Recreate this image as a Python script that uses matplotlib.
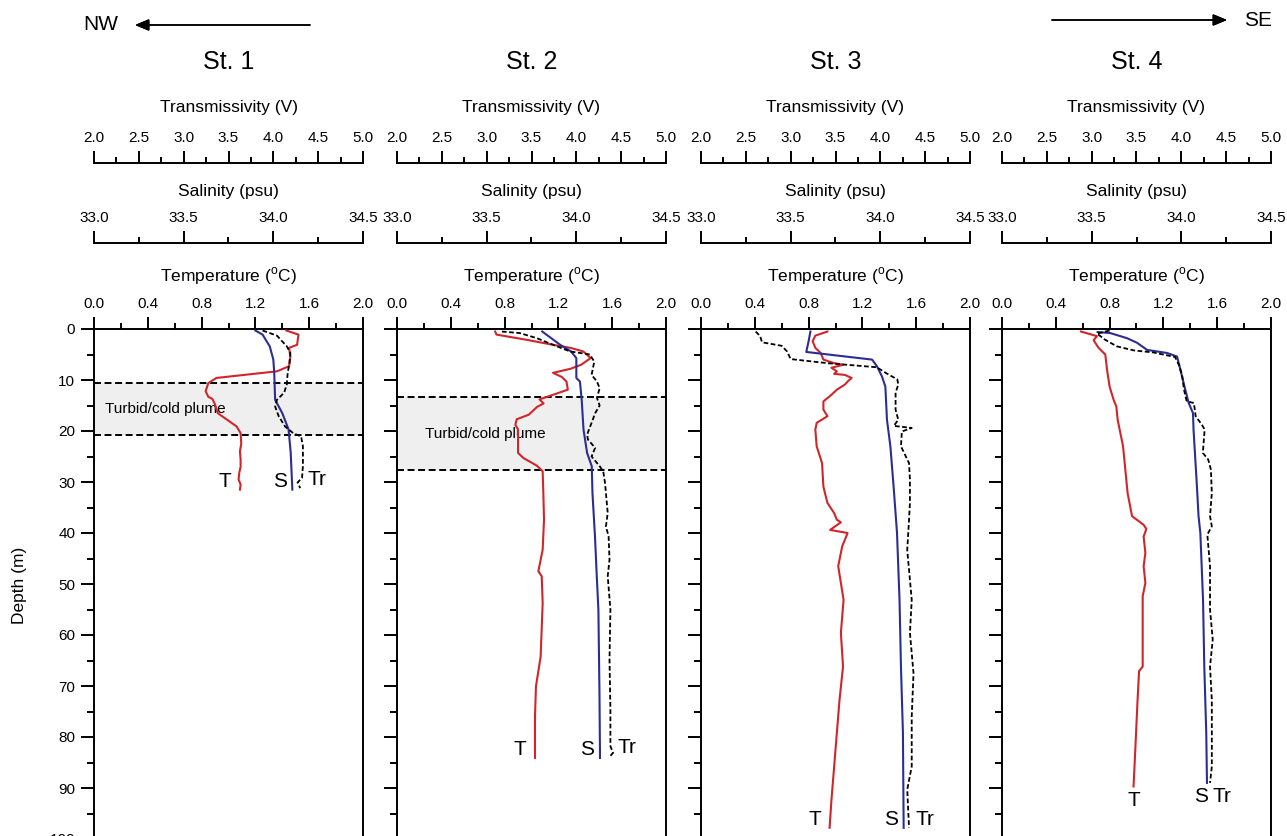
import matplotlib.pyplot as plt
from matplotlib.ticker import FixedLocator, AutoMinorLocator, FormatStrFormatter

plt.rcParams['font.family'] = ['Liberation Sans', 'DejaVu Sans']
plt.rcParams['mathtext.fontset'] = 'custom'
plt.rcParams['mathtext.rm'] = 'Liberation Sans'
plt.rcParams['lines.scale_dashes'] = False

# ---- data (depth in m) ----
stations = ['St. 1', 'St. 2', 'St. 3', 'St. 4']

st1_T_depth = [0.3, 1.1, 3.1, 3.7, 5.4, 7.3, 8.3, 9.6, 10.6, 12.2, 13.3, 13.7, 14.8, 16.5, 17.8, 19.1,
               20.4, 22.5, 24.0, 25.6, 27.0, 28.2, 29.5, 30.5, 31.5]
st1_T = [1.43, 1.52, 1.51, 1.45, 1.46, 1.45, 1.36, 0.91, 0.85, 0.83, 0.85, 0.88, 0.90, 0.92, 0.99, 1.06,
         1.09, 1.095, 1.085, 1.09, 1.09, 1.08, 1.075, 1.09, 1.085]
st1_S_depth = [0.3, 1.1, 3.4, 6.0, 8.6, 13.9, 16.5, 19.7, 24.3, 31.5]
st1_S = [33.90, 33.94, 33.98, 34.00, 34.005, 34.01, 34.05, 34.085, 34.097, 34.106]
st1_Tr_depth = [0.3, 1.3, 3.4, 4.7, 6.7, 8.6, 10.9, 12.5, 13.9, 15.2, 17.1, 19.1, 20.4, 21.1, 23.0, 26.9,
                29.2, 30.1, 31.2]
st1_Tr = [3.88, 4.04, 4.15, 4.19, 4.18, 4.16, 4.15, 4.12, 4.04, 4.02, 4.06, 4.13, 4.22, 4.31, 4.33, 4.33,
          4.32, 4.27, 4.30]

st2_T_depth = [0.5, 1.1, 2.1, 3.1, 3.7, 4.4, 5.7, 7.0, 7.8, 8.6, 9.4, 10.3, 11.9, 12.9, 13.8, 14.6, 15.3,
               16.8, 17.7, 18.8, 19.7, 24.3, 25.3, 26.8, 27.9, 32.2, 37.4, 43.3, 47.5, 48.5, 53.7, 64.2,
               70.1, 76.0, 84.1]
st2_T = [0.73, 0.74, 0.96, 1.16, 1.29, 1.385, 1.44, 1.37, 1.29, 1.16, 1.225, 1.26, 1.27, 1.16, 1.06, 1.09,
         1.04, 0.98, 0.89, 0.88, 0.90, 0.90, 0.94, 1.04, 1.083, 1.088, 1.093, 1.083, 1.051, 1.076, 1.083,
         1.068, 1.033, 1.026, 1.026]
st2_S_depth = [0.5, 1.8, 3.1, 4.4, 5.7, 9.6, 10.3, 13.9, 19.7, 24.3, 26.9, 32.2, 40.7, 48.5, 55.0, 71.4, 84.1]
st2_S = [33.81, 33.86, 33.91, 33.97, 34.0, 34.0, 34.02, 34.03, 34.04, 34.06, 34.086, 34.09, 34.104,
         34.114, 34.123, 34.129, 34.132]
st2_Tr_depth = [0.5, 0.8, 1.8, 3.1, 4.4, 5.0, 6.4, 9.0, 10.3, 11.6, 13.5, 15.0, 16.5, 18.4, 20.7, 21.7,
                23.3, 25.0, 26.9, 27.9, 30.2, 32.2, 36.1, 38.7, 40.7, 45.2, 48.5, 55.0, 64.8, 74.6, 81.8,
                83.1, 83.7]
st2_Tr = [3.17, 3.37, 3.56, 3.74, 3.93, 4.15, 4.20, 4.17, 4.23, 4.26, 4.23, 4.26, 4.21, 4.17, 4.12, 4.13,
          4.21, 4.17, 4.26, 4.30, 4.32, 4.33, 4.35, 4.33, 4.36, 4.37, 4.35, 4.38, 4.37, 4.38, 4.38,
          4.41, 4.38]

st3_T_depth = [0.5, 1.3, 2.4, 3.7, 4.7, 6.0, 6.7, 7.0, 7.6, 8.3, 8.8, 9.0, 9.6, 10.3, 10.9, 11.9, 12.9,
               14.2, 15.8, 17.1, 18.4, 19.7, 23.0, 26.3, 30.9, 34.1, 36.1, 37.4, 37.9, 39.4, 40.0, 42.6,
               46.5, 53.1, 59.6, 66.2, 72.7, 79.2, 85.8, 92.3, 97.8]
st3_T = [0.94, 0.85, 0.83, 0.85, 0.89, 0.91, 0.99, 1.06, 0.97, 1.01, 0.99, 1.07, 1.12, 1.09, 1.07, 1.01,
         0.97, 0.91, 0.91, 0.94, 0.86, 0.85, 0.86, 0.90, 0.91, 0.94, 0.99, 1.01, 1.04, 0.96, 1.09, 1.05,
         1.02, 1.06, 1.04, 1.056, 1.03, 1.01, 0.99, 0.97, 0.956]
st3_S_depth = [0.5, 2.4, 4.5, 6.0, 7.3, 9.3, 11.3, 17.8, 23.0, 30.9, 40.0, 53.1, 66.2, 79.2, 97.8]
st3_S = [33.61, 33.60, 33.587, 33.954, 33.981, 34.009, 34.028, 34.037, 34.056, 34.074, 34.093, 34.107,
         34.115, 34.126, 34.13]
st3_Tr_depth = [0.5, 1.4, 2.6, 3.3, 4.4, 5.9, 6.7, 7.5, 8.6, 9.9, 10.9, 12.5, 15.8, 17.8, 19.0, 19.4, 20.1,
                23.0, 26.3, 29.5, 34.1, 37.4, 43.3, 53.1, 59.6, 67.5, 76.0, 85.8, 90.3, 97.8]
st3_Tr = [2.61, 2.66, 2.68, 2.90, 2.96, 3.00, 3.41, 3.96, 4.06, 4.19, 4.20, 4.17, 4.17, 4.20, 4.15, 4.35,
          4.24, 4.23, 4.32, 4.33, 4.33, 4.32, 4.30, 4.35, 4.33, 4.37, 4.35, 4.35, 4.30, 4.32]

st4_T_depth = [0.5, 1.4, 2.2, 3.7, 5.0, 8.0, 11.3, 13.9, 15.2, 17.8, 20.4, 23.0, 27.6, 32.2, 36.7, 38.4,
               39.2, 40.7, 43.9, 46.5, 49.8, 52.4, 66.2, 67.1, 72.7, 82.5, 89.7]
st4_T = [0.587, 0.706, 0.681, 0.718, 0.768, 0.781, 0.80, 0.83, 0.85, 0.86, 0.88, 0.90, 0.917, 0.934,
         0.967, 1.053, 1.073, 1.053, 1.066, 1.053, 1.066, 1.046, 1.046, 1.019, 1.008, 0.991, 0.978]
st4_S_depth = [0.6, 0.8, 1.8, 2.7, 4.1, 4.7, 5.4, 7.3, 9.3, 11.9, 14.5, 16.5, 19.7, 25.6, 30.9, 36.7, 40.0,
               53.1, 66.2, 79.2, 89.0]
st4_S = [33.533, 33.604, 33.697, 33.753, 33.809, 33.92, 33.976, 33.99, 34.004, 34.022, 34.041, 34.065,
         34.068, 34.078, 34.087, 34.096, 34.106, 34.121, 34.128, 34.139, 34.143]
st4_Tr_depth = [0.3, 0.9, 2.1, 3.4, 4.2, 4.6, 5.5, 7.3, 9.3, 11.9, 14.2, 14.5, 17.1, 18.8, 19.7, 24.3, 25.6,
                27.6, 32.2, 36.7, 38.7, 40.3, 46.5, 55.0, 60.9, 66.2, 72.7, 85.8, 89.0]
st4_Tr = [3.20, 3.06, 3.15, 3.28, 3.47, 3.69, 3.93, 3.98, 4.01, 4.03, 4.06, 4.14, 4.16, 4.23, 4.26, 4.24,
          4.30, 4.33, 4.34, 4.32, 4.34, 4.29, 4.32, 4.32, 4.35, 4.32, 4.34, 4.34, 4.32]

# turbid/cold plume layer (top, bottom depth); None where absent
plumes = [(10.5, 20.7), (13.4, 27.6), None, None]

temp_ticks = [0.0, 0.4, 0.8, 1.2, 1.6, 2.0]
sal_ticks = [33.0, 33.5, 34.0, 34.5]
tr_ticks = [2.0, 2.5, 3.0, 3.5, 4.0, 4.5, 5.0]
depth_ticks = [0, 10, 20, 30, 40, 50, 60, 70, 80, 90, 100]

profiles = [
    (st1_T_depth, st1_T, st1_S_depth, st1_S, st1_Tr_depth, st1_Tr),
    (st2_T_depth, st2_T, st2_S_depth, st2_S, st2_Tr_depth, st2_Tr),
    (st3_T_depth, st3_T, st3_S_depth, st3_S, st3_Tr_depth, st3_Tr),
    (st4_T_depth, st4_T, st4_S_depth, st4_S, st4_Tr_depth, st4_Tr),
]

RED = '#d0262b'
BLUE = '#2c2d94'
LW = 1.4
W, H = 1287, 836

fig = plt.figure(figsize=(W / 100, H / 100), dpi=100)

lefts = [94, 397, 701, 1002]


def style_top(a, ticks, label, labelpad):
    a.xaxis.tick_top()
    a.xaxis.set_major_locator(FixedLocator(ticks))
    a.xaxis.set_minor_locator(AutoMinorLocator(2))
    a.xaxis.set_major_formatter(FormatStrFormatter('%.1f'))
    a.tick_params(axis='x', which='both', direction='out', width=LW, top=True, bottom=False,
                  labeltop=True, labelbottom=False)
    a.tick_params(axis='x', which='major', length=8.5, pad=4.5, labelsize=11)
    a.tick_params(axis='x', which='minor', length=4)
    a.xaxis.set_label_position('top')
    a.set_xlabel(label, fontsize=12.5, labelpad=labelpad)


def floating_axis(ax, lim, ticks, label, offset, labelpad):
    tw = ax.twiny()
    tw.set_xlim(*lim)
    for s in ['left', 'right', 'bottom']:
        tw.spines[s].set_visible(False)
    tw.spines['top'].set_position(('outward', offset))
    tw.spines['top'].set_linewidth(LW)
    style_top(tw, ticks, label, labelpad)
    return tw


for i, (name, prof) in enumerate(zip(stations, profiles)):
    tdep, t, sdep, s, trdep, tr = prof
    ax = fig.add_axes([lefts[i] / W, (H - 839) / H, 269 / W, 510 / H])
    ax.set_xlim(0, 2)
    ax.set_ylim(100, 0)
    for sp in ['left', 'right', 'top']:
        ax.spines[sp].set_linewidth(LW)
    ax.spines['bottom'].set_visible(False)

    sal = floating_axis(ax, (33.0, 34.5), sal_ticks, 'Salinity (psu)', 62, 10.5)
    trm = floating_axis(ax, (2.0, 5.0), tr_ticks, 'Transmissivity (V)', 119.5, 14)

    # twiny moves the host ticks to the bottom, so style the temperature axis afterwards
    style_top(ax, temp_ticks, r'Temperature ($^{\mathrm{o}}$C)', 11)

    ax.yaxis.set_major_locator(FixedLocator(depth_ticks))
    ax.yaxis.set_minor_locator(AutoMinorLocator(2))
    ax.tick_params(axis='y', which='both', direction='out', width=LW, right=False,
                   labelleft=(i == 0), labelsize=11, pad=4)
    ax.tick_params(axis='y', which='major', length=9.5)
    ax.tick_params(axis='y', which='minor', length=5)

    if plumes[i] is not None:
        top, bot = plumes[i]
        ax.axhspan(top, bot, color='#efefef', zorder=0, lw=0)
        for d in (top, bot):
            ax.axhline(d, color='black', lw=LW, ls=(0, (5, 2.6)), zorder=1)
        ax.text(0.04 if i == 0 else 0.105, (top + bot) / 2, 'Turbid/cold plume', fontsize=11,
                transform=ax.get_yaxis_transform(), va='center', ha='left')

    ax.plot(t, tdep, color=RED, lw=1.5, zorder=3)
    sal.plot(s, sdep, color=BLUE, lw=1.5, zorder=3)
    trm.plot(tr, trdep, color='black', lw=1.3, ls=(0, (3.4, 1.8)), zorder=3)

    # curve end labels
    if i < 3:
        kw = dict(textcoords='offset points', fontsize=15, va='baseline')
        ax.annotate('T', (t[-1], tdep[-1]), xytext=(-6, 2), ha='right', **kw)
        sal.annotate('S', (s[-1], sdep[-1]), xytext=(-4, 2), ha='right', **kw)
        trm.annotate('Tr', (tr[-1], trdep[-1]), xytext=(5, 2), ha='left', **kw)
    else:
        kw = dict(textcoords='offset points', fontsize=15, va='top')
        ax.annotate('T', (t[-1], tdep[-1]), xytext=(0, -3), ha='center', **kw)
        sal.annotate('S', (s[-1], sdep[-1]), xytext=(1, -3), ha='right', **kw)
        trm.annotate('Tr', (tr[-1], trdep[-1]), xytext=(2, -3), ha='left', **kw)

    fig.text((lefts[i] + 134.5) / W, 1 - 62 / H, name, ha='center', va='center', fontsize=18)

fig.text(20 / W, 1 - 585 / H, 'Depth (m)', rotation=90, ha='center', va='center', fontsize=12.5)

# direction arrows
arrow = dict(arrowstyle='-|>,head_length=0.6,head_width=0.25', color='black', lw=1.1,
             mutation_scale=14, shrinkA=0, shrinkB=0)
fig.text(101 / W, 1 - 25 / H, 'NW', ha='center', va='center', fontsize=15)
fig.add_artist(plt.annotate('', xy=(135, H - 25), xytext=(310, H - 25), xycoords='figure pixels',
                            arrowprops=arrow))
fig.text(1258 / W, 1 - 20 / H, 'SE', ha='center', va='center', fontsize=15)
fig.add_artist(plt.annotate('', xy=(1227, H - 20), xytext=(1052, H - 20), xycoords='figure pixels',
                            arrowprops=arrow))

fig.savefig('out.png', dpi=100)
